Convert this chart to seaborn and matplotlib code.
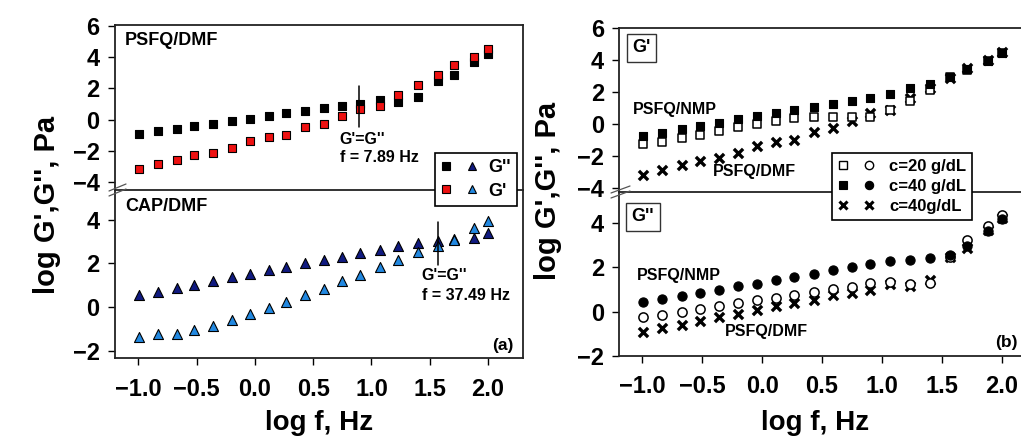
import numpy as np
import pandas as pd
import seaborn as sns
import matplotlib
matplotlib.use("Agg")
import matplotlib.pyplot as plt
from matplotlib.lines import Line2D
from matplotlib.legend_handler import HandlerTuple

# ---- data: log frequency (Hz) and log moduli (Pa) ----
log_f = [-0.99, -0.83, -0.67, -0.52, -0.36, -0.20, -0.04, 0.12, 0.27, 0.43,
         0.59, 0.75, 0.90, 1.07, 1.23, 1.40, 1.57, 1.71, 1.88, 2.00]

# PSFQ/DMF, c = 40 g/dL
psfq_dmf_g2 = [-0.90, -0.73, -0.58, -0.43, -0.26, -0.09, 0.06, 0.24, 0.39, 0.54,
               0.73, 0.86, 0.97, 1.23, 1.16, 1.44, 2.45, 2.88, 3.68, 4.21]
psfq_dmf_g1 = [-3.18, -2.88, -2.58, -2.30, -2.13, -1.81, -1.38, -1.12, -1.01, -0.49,
               -0.26, 0.22, 0.71, 0.90, 1.61, 2.24, 2.86, 3.51, 4.02, 4.54]

# CAP/DMF
cap_g2 = [0.58, 0.71, 0.88, 1.03, 1.22, 1.37, 1.52, 1.70, 1.85, 2.01,
          2.17, 2.31, 2.48, 2.63, 2.78, 2.92, 3.04, 3.10, 3.15, 3.39]
cap_g1 = [-1.35, -1.23, -1.20, -1.03, -0.84, -0.56, -0.32, -0.05, 0.23, 0.58,
          0.85, 1.22, 1.49, 1.82, 2.14, 2.51, 2.81, 3.09, 3.63, 3.95]

# PSFQ/NMP, c = 20 and 40 g/dL
nmp20_g1 = [-1.22, -1.11, -0.86, -0.65, -0.42, -0.19, -0.02, 0.19, 0.36, 0.44,
            0.42, 0.46, 0.42, 0.90, 1.43, 2.14, 2.94, 3.40, 3.94, 4.44]
nmp40_g1 = [-0.73, -0.57, -0.31, -0.10, 0.08, 0.31, 0.48, 0.67, 0.86, 1.05,
            1.25, 1.42, 1.61, 1.87, 2.29, 2.50, 2.98, 3.44, 3.98, 4.44]
nmp20_g2 = [-0.23, -0.15, -0.03, 0.12, 0.27, 0.38, 0.51, 0.63, 0.74, 0.87,
            1.01, 1.13, 1.28, 1.34, 1.25, 1.30, 2.45, 3.24, 3.88, 4.35]
nmp40_g2 = [0.42, 0.57, 0.72, 0.83, 1.00, 1.15, 1.27, 1.42, 1.58, 1.70,
            1.86, 2.03, 2.17, 2.28, 2.31, 2.40, 2.55, 2.96, 3.63, 4.18]

# crossover frequencies (Hz)
cross_psfq_hz = 7.89
cross_cap_hz = 37.49
cross_psfq_span = (-0.48, 2.15)
cross_cap_span = (1.93, 3.88)

x_ticks = [-1.0, -0.5, 0.0, 0.5, 1.0, 1.5, 2.0]

# ---- style ----
sns.set_style("ticks")
plt.rcParams["font.family"] = ["Liberation Sans", "DejaVu Sans"]
plt.rcParams["font.weight"] = "bold"
plt.rcParams["axes.labelweight"] = "bold"
for key in ("text.color", "axes.labelcolor", "xtick.color", "ytick.color"):
    plt.rcParams[key] = "black"

RED = "#ee1111"
NAVY = "#101a80"
LBLUE = "#2288e0"
W, H = 1021, 437

fig = plt.figure(figsize=(W / 100, H / 100), dpi=100)


def px_rect(x0, y0, x1, y1):
    return [x0 / W, 1 - y1 / H, (x1 - x0) / W, (y1 - y0) / H]


axA_top = fig.add_axes(px_rect(115, 25, 523, 190))
axA_bot = fig.add_axes(px_rect(115, 190, 523, 358.3))
axB_top = fig.add_axes(px_rect(619.3, 28.3, 1026, 192))
axB_bot = fig.add_axes(px_rect(619.3, 192, 1026, 356))

df = pd.DataFrame({
    "log_f": log_f,
    "psfq_dmf_g2": psfq_dmf_g2, "psfq_dmf_g1": psfq_dmf_g1,
    "cap_g2": cap_g2, "cap_g1": cap_g1,
    "nmp20_g1": nmp20_g1, "nmp40_g1": nmp40_g1,
    "nmp20_g2": nmp20_g2, "nmp40_g2": nmp40_g2,
})


def pts(ax, col, marker, face, edge="black", s=36, lw=0.8, z=3):
    if marker == "x":
        sns.scatterplot(data=df, x="log_f", y=col, ax=ax, marker="x",
                        color=face, s=s, linewidth=lw, zorder=z)
    else:
        sns.scatterplot(data=df, x="log_f", y=col, ax=ax, marker=marker,
                        color=face, edgecolor=edge, s=s, linewidth=lw, zorder=z)


# panel (a)
pts(axA_top, "psfq_dmf_g2", "s", "black", s=40)
pts(axA_top, "psfq_dmf_g1", "s", RED, s=40)
pts(axA_bot, "cap_g2", "^", NAVY, s=52)
pts(axA_bot, "cap_g1", "^", LBLUE, s=52)

# panel (b)
pts(axB_top, "psfq_dmf_g1", "x", "black", s=44, lw=2.4)
pts(axB_top, "nmp20_g1", "s", "white", s=40, lw=1.1)
pts(axB_top, "nmp40_g1", "s", "black", s=40)
pts(axB_bot, "psfq_dmf_g2", "x", "black", s=44, lw=2.4)
pts(axB_bot, "nmp20_g2", "o", "white", s=44, lw=1.1)
pts(axB_bot, "nmp40_g2", "o", "black", s=44)

# crossover markers
axA_top.plot([np.log10(cross_psfq_hz)] * 2, cross_psfq_span, color="black", lw=1.1, zorder=4)
axA_bot.plot([np.log10(cross_cap_hz)] * 2, cross_cap_span, color="black", lw=1.1, zorder=4)

limits = {
    axA_top: ((-1.2, 2.3), (-4.53, 6.08), [6, 4, 2, 0, -2, -4]),
    axA_bot: ((-1.2, 2.3), (-2.33, 5.35), [4, 2, 0, -2]),
    axB_top: ((-1.19, 2.2), (-4.25, 6.0), [6, 4, 2, 0, -2, -4]),
    axB_bot: ((-1.19, 2.2), (-2.0, 5.4), [4, 2, 0, -2]),
}
for ax, (xl, yl, yt) in limits.items():
    ax.set_xlim(*xl)
    ax.set_ylim(*yl)
    ax.set_yticks(yt)
    ax.set_xticks(x_ticks)
    ax.set_xlabel("")
    ax.set_ylabel("")
    for sp in ax.spines.values():
        sp.set_visible(True)
        sp.set_linewidth(1.3)
        sp.set_color("#222222")
    ax.tick_params(axis="y", direction="out", length=5, width=1, labelsize=17, pad=6,
                   right=False, colors="black")
    ax.tick_params(axis="x", direction="out", length=5, width=1, labelsize=17, pad=9,
                   top=False, colors="black")
    ax.set_facecolor("white")

for ax in (axA_top, axB_top):
    ax.spines["bottom"].set_visible(False)
    ax.tick_params(axis="x", bottom=False, labelbottom=False)
for ax in (axA_bot, axB_bot):
    ax.set_xticklabels(["\u22121.0", "\u22120.5", "0.0", "0.5", "1.0", "1.5", "2.0"])

# axis break marks
for (x0, y0, x1, y1) in [(109, 191, 126, 184), (109, 196, 126, 189),
                         (611, 193, 630, 186), (611, 198, 630, 191)]:
    fig.add_artist(Line2D([x0 / W, x1 / W], [1 - y0 / H, 1 - y1 / H],
                          color="#555555", lw=0.9, transform=fig.transFigure))

# panel texts
axA_top.text(0.025, 0.905, "PSFQ/DMF", transform=axA_top.transAxes, fontsize=13,
             ha="left", va="center")
axA_top.text(0.551, 0.309, "G'=G''", transform=axA_top.transAxes, fontsize=11.5,
             ha="left", va="center")
axA_top.text(0.551, 0.197, "f = 7.89 Hz", transform=axA_top.transAxes, fontsize=11.5,
             ha="left", va="center")
axA_bot.text(0.025, 0.902, "CAP/DMF", transform=axA_bot.transAxes, fontsize=13,
             ha="left", va="center")
axA_bot.text(0.752, 0.492, "G'=G''", transform=axA_bot.transAxes, fontsize=11.5,
             ha="left", va="center")
axA_bot.text(0.752, 0.376, "f = 37.49 Hz", transform=axA_bot.transAxes, fontsize=11.5,
             ha="left", va="center")
axA_bot.text(0.977, 0.079, "(a)", transform=axA_bot.transAxes, fontsize=12.5,
             ha="right", va="center")

box = dict(boxstyle="square,pad=0.3", fc="white", ec="#333333", lw=1.0)
axB_top.text(0.055, 0.88, "G'", transform=axB_top.transAxes, fontsize=13,
             ha="center", va="center", bbox=box)
axB_top.text(0.034, 0.501, "PSFQ/NMP", transform=axB_top.transAxes, fontsize=11.5,
             ha="left", va="center")
axB_top.text(0.230, 0.125, "PSFQ/DMF", transform=axB_top.transAxes, fontsize=11.5,
             ha="left", va="center")
axB_bot.text(0.058, 0.848, "G''", transform=axB_bot.transAxes, fontsize=13,
             ha="center", va="center", bbox=box)
axB_bot.text(0.044, 0.491, "PSFQ/NMP", transform=axB_bot.transAxes, fontsize=11.5,
             ha="left", va="center")
axB_bot.text(0.260, 0.149, "PSFQ/DMF", transform=axB_bot.transAxes, fontsize=11.5,
             ha="left", va="center")
axB_bot.text(0.924, 0.082, "(b)", transform=axB_bot.transAxes, fontsize=12.5,
             ha="left", va="center")

# axis titles
for xc, yc in [(47, 205), (548, 191)]:
    fig.text(xc / W, 1 - yc / H, "log G',G'', Pa", rotation=90, fontsize=21,
             ha="center", va="center")
for xc in (319, 815):
    fig.text(xc / W, 1 - 423 / H, "log f, Hz", fontsize=20, ha="center", va="center")

# legends
def mk(marker, face, edge="black", ms=6, mew=0.8):
    return Line2D([], [], ls="none", marker=marker, mfc=face, mec=edge, ms=ms, mew=mew)


legA = fig.legend(
    handles=[(mk("s", "black"), mk("^", NAVY)), (mk("s", RED), mk("^", LBLUE))],
    labels=["G''", "G'"],
    handler_map={tuple: HandlerTuple(ndivide=None, pad=0.9)},
    loc="upper left", bbox_to_anchor=(435 / W, 1 - 153 / H),
    bbox_transform=fig.transFigure, fontsize=13, frameon=True, fancybox=False,
    edgecolor="black", framealpha=1, handlelength=2.0, handletextpad=0.6,
    borderpad=0.35, labelspacing=0.35, borderaxespad=0)
legA.get_frame().set_linewidth(1.2)

legB = fig.legend(
    handles=[(mk("s", "white", mew=1.0), mk("o", "white", mew=1.0)),
             (mk("s", "black"), mk("o", "black")),
             (mk("x", "black", mew=2.2), mk("x", "black", mew=2.2))],
    labels=["c=20 g/dL", "c=40 g/dL", "c=40g/dL"],
    handler_map={tuple: HandlerTuple(ndivide=None, pad=0.9)},
    loc="upper left", bbox_to_anchor=(831.7 / W, 1 - 153 / H),
    bbox_transform=fig.transFigure, fontsize=12, frameon=True, fancybox=False,
    edgecolor="black", framealpha=1, handlelength=2.2, handletextpad=0.9,
    borderpad=0.35, labelspacing=0.3, borderaxespad=0)
legB.get_frame().set_linewidth(1.2)

fig.savefig("out.png", dpi=100, facecolor="white")
